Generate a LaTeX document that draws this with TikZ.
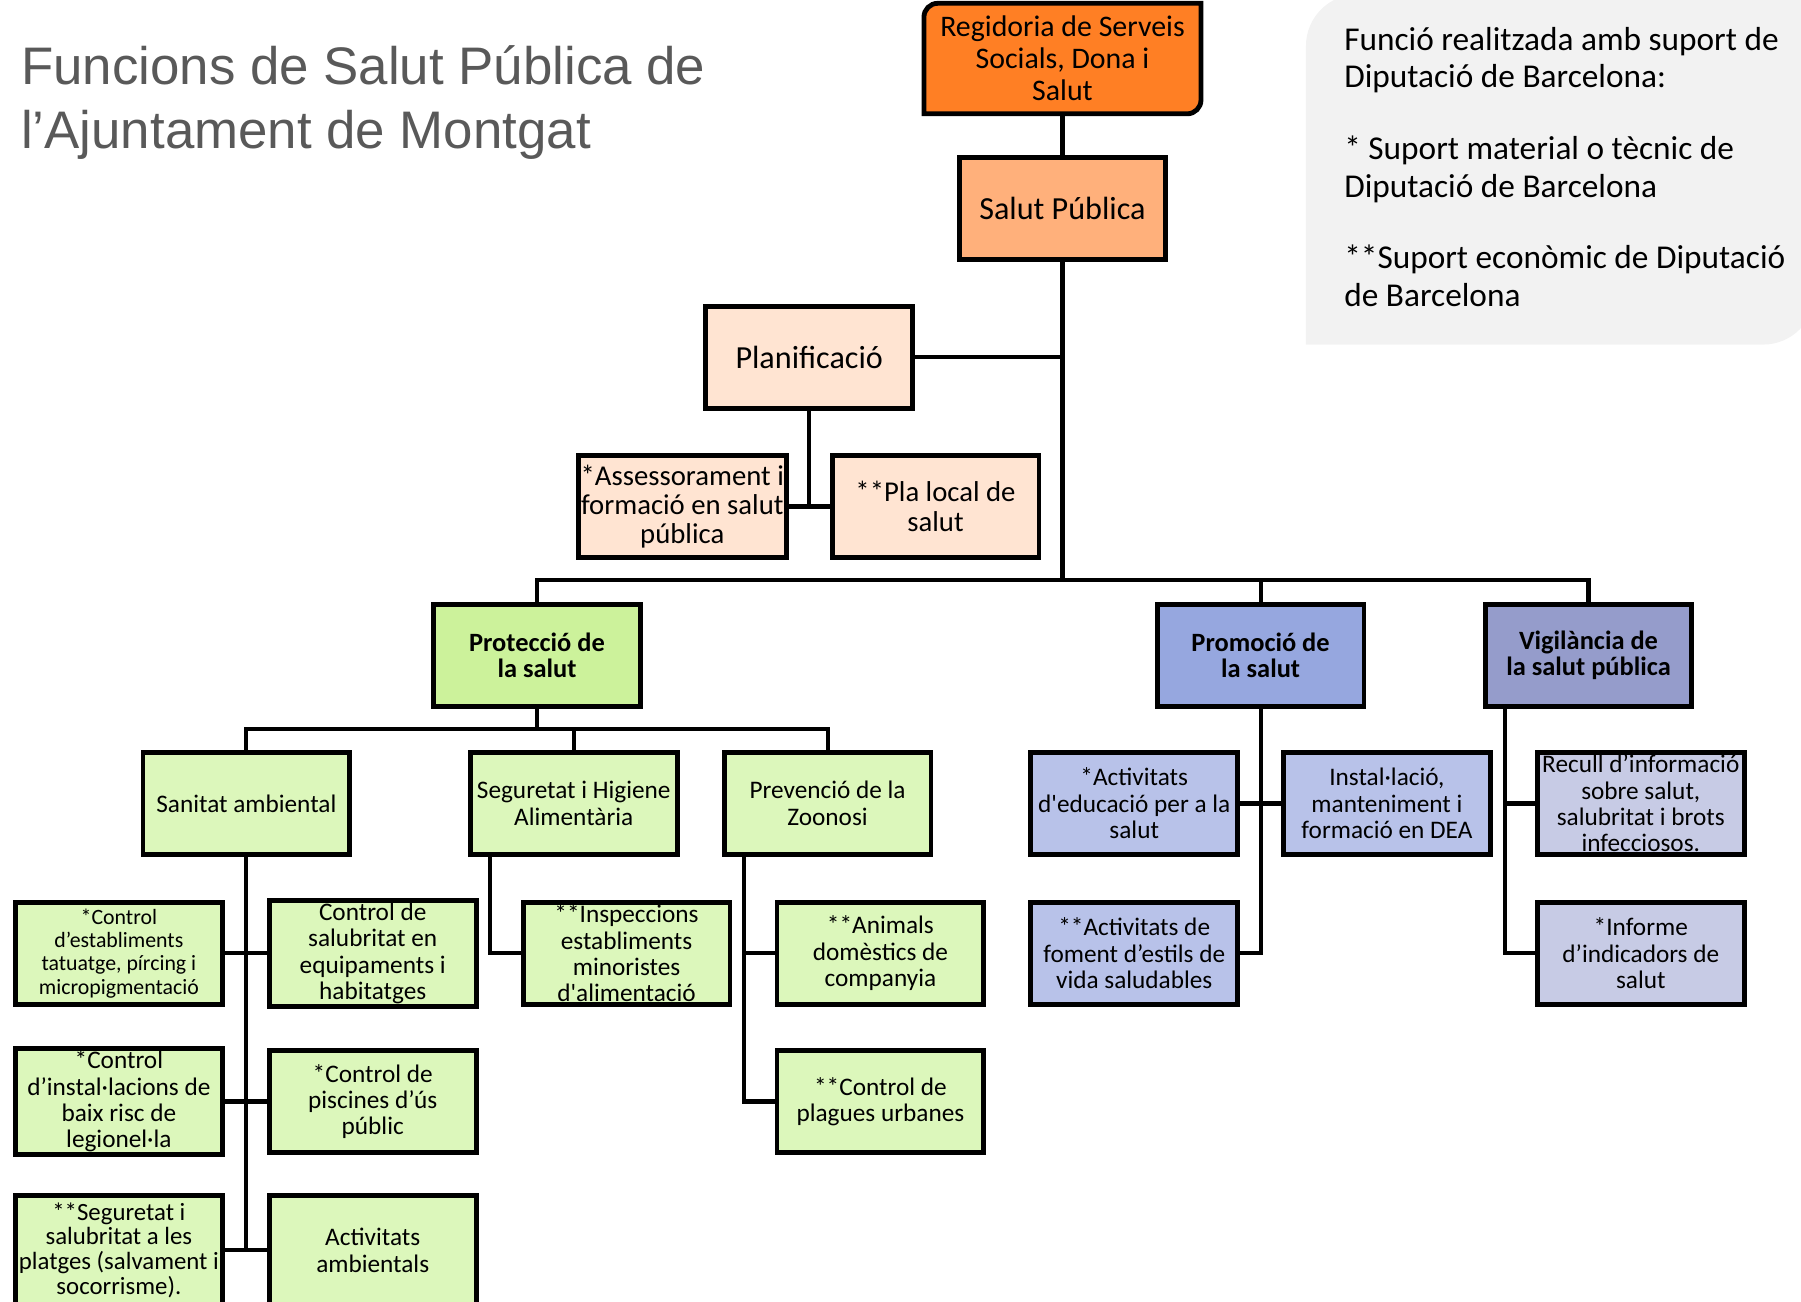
\documentclass[tikz,border=0pt]{standalone}
\usepackage{fontspec}
\setmainfont{Carlito}
\newfontfamily\titlefont{Liberation Sans}
\usepackage{xcolor}
\usepackage{tikz}
\usetikzlibrary{backgrounds}
\definecolor{regorange}{HTML}{FF7F24}
\definecolor{spfill}{HTML}{FFB07B}
\definecolor{planfill}{HTML}{FFE4D2}
\definecolor{protfill}{HTML}{CCF29B}
\definecolor{grnfill}{HTML}{DCF7BB}
\definecolor{promfill}{HTML}{96A7DF}
\definecolor{vigfill}{HTML}{959CCB}
\definecolor{promchild}{HTML}{B8C2E9}
\definecolor{vigchild}{HTML}{C7CBE5}
\definecolor{legendgray}{HTML}{F2F2F2}
\definecolor{titlegray}{HTML}{595959}
\newcommand{\ap}{\textquotesingle}

\begin{document}
\begin{tikzpicture}[x=0.5pt, y=-0.5pt,
  orgbox/.style={draw, line width=2.1pt, minimum width=90pt, minimum height=44.5pt, inner sep=1pt, align=center, font=\fontsize{11}{11.5}\selectfont},
  headbox/.style={orgbox, font=\fontsize{11.5}{11.5}\selectfont\bfseries},
  conn/.style={line width=1.8pt}]
  \useasboundingbox (0,0) rectangle (1568,1133);
  \clip (0,0) rectangle (1568,1133);

  % title and legend
  \node[anchor=north west, inner sep=0, align=left, text=titlegray, font=\titlefont\fontsize{23}{28}\selectfont] (title) at (18,39) {Funcions de Salut Pública de\\l’Ajuntament de Montgat};
  \fill[legendgray] (1137,300) -- (1137,40) arc[start angle=180, end angle=90, radius=22.5pt] -- (1580,-5) -- (1580,255) arc[start angle=0, end angle=-90, radius=22.5pt] -- cycle;
  \node[anchor=north west, inner sep=0, align=left, font=\fontsize{14.5}{16.5}\selectfont] (legend) at (1170,23) {Funció realitzada amb suport de\\Diputació de Barcelona:\\[14.5pt]* Suport material o tècnic de\\Diputació de Barcelona\\[14.5pt]**Suport econòmic de Diputació\\de Barcelona};

  % top levels
  \node[orgbox, draw=none, minimum width=118.5pt, minimum height=46pt, font=\fontsize{13}{14}\selectfont] (reg) at (925,51) {Regidoria de Serveis\\Socials, Dona i\\Salut};
  \begin{scope}[on background layer]
    \draw[line width=2.1pt, fill=regorange] (reg.south west) -- ([yshift=-6pt]reg.north west) arc[start angle=180, end angle=90, radius=6pt] -- (reg.north east) -- ([yshift=6pt]reg.south east) arc[start angle=0, end angle=-90, radius=6pt] -- cycle;
  \end{scope}
  \node[orgbox, fill=spfill, font=\fontsize{14}{16}\selectfont] (sp) at (925,181.5) {Salut Pública};
  \node[orgbox, fill=planfill, font=\fontsize{14}{16}\selectfont] (plan) at (704.5,311) {Planificació};
  \node[orgbox, fill=planfill, font=\fontsize{12.5}{12.75}\selectfont] (ases) at (594,441) {*Assessorament i\\formació en salut\\pública};
  \node[orgbox, fill=planfill, font=\fontsize{12.5}{12.75}\selectfont] (pla) at (814.5,441) {**Pla local de\\salut};

  \node[headbox, fill=protfill] (prot) at (467.5,570.5) {Protecció de\\la salut};
  \node[headbox, fill=promfill] (prom) at (1097.5,570.5) {Promoció de\\la salut};
  \node[headbox, fill=vigfill] (vig) at (1383,570.5) {Vigilància de\\la salut pública};

  % proteccio
  \node[orgbox, fill=grnfill] (sanamb) at (214.5,699.5) {Sanitat ambiental};
  \node[orgbox, fill=grnfill] (segali) at (499.5,699.5) {Seguretat i Higiene\\Alimentària};
  \node[orgbox, fill=grnfill] (zoon) at (720.5,699.5) {Prevenció de la\\Zoonosi};
  \node[orgbox, fill=grnfill, font=\fontsize{9.5}{10.2}\selectfont] (ctat) at (103.5,830) {*Control\\d’establiments\\tatuatge, pírcing i\\micropigmentació};
  \node[orgbox, fill=grnfill] (equip) at (324.5,830) {Control de\\salubritat en\\equipaments i\\habitatges};
  \node[orgbox, fill=grnfill] (legio) at (103.5,959) {*Control\\d’instal·lacions de\\baix risc de\\legionel·la};
  \node[orgbox, fill=grnfill] (pisc) at (324.5,959) {*Control de\\piscines d’ús\\públic};
  \node[orgbox, fill=grnfill, minimum height=47.5pt, font=\fontsize{10.8}{10.8}\selectfont] (platg) at (103.5,1088.5) {**Seguretat i\\salubritat a les\\platges (salvament i\\socorrisme).};
  \node[orgbox, fill=grnfill, minimum height=47.5pt] (actamb) at (324.5,1088.5) {Activitats\\ambientals};
  \node[orgbox, fill=grnfill] (insp) at (545.5,830) {**Inspeccions\\establiments\\minoristes\\d\ap alimentació};
  \node[orgbox, fill=grnfill] (anim) at (766.5,830) {**Animals\\domèstics de\\companyia};
  \node[orgbox, fill=grnfill] (plag) at (766.5,959) {**Control de\\plagues urbanes};

  % promocio and vigilancia
  \node[orgbox, fill=promchild] (edu) at (987.5,699.5) {*Activitats\\d\ap educació per a la\\salut};
  \node[orgbox, fill=promchild] (dea) at (1207.5,699.5) {Instal·lació,\\manteniment i\\formació en DEA};
  \node[orgbox, fill=promchild] (fom) at (987.5,830) {**Activitats de\\foment d’estils de\\vida saludables};
  \node[orgbox, fill=vigchild] (rec) at (1428.5,699.5) {Recull d’informació\\sobre salut,\\salubritat i brots\\infecciosos.};
  \node[orgbox, fill=vigchild] (inf) at (1428.5,830) {*Informe\\d’indicadors de\\salut};

  % connectors
  \coordinate (busP) at (925,505);
  \coordinate (busV) at (467.5,635);
  \coordinate (segl) at ([xshift=9.5pt]segali.south west);
  \coordinate (zoonl) at ([xshift=9.5pt]zoon.south west);
  \coordinate (vigl) at ([xshift=9.5pt]vig.south west);
  \draw[conn] (reg) -- (sp);
  \draw[conn] (sp) -- (busP);
  \draw[conn] (plan.east) -- (plan.east -| sp.south);
  \draw[conn] (plan.south) |- (ases.east);
  \draw[conn] (pla.west) -- (pla.west -| plan.south);
  \draw[conn] (prot.north) |- (busP) -| (vig.north);
  \draw[conn] (busP) -| (prom.north);
  \draw[conn] (prot) -- (busV);
  \draw[conn] (sanamb.north) |- (busV) -| (zoon.north);
  \draw[conn] (busV) -| (segali.north);
  \draw[conn] (sanamb.south) -- (sanamb.south |- actamb.west);
  \draw[conn] (ctat.east) -- (equip.west);
  \draw[conn] (legio.east) -- (pisc.west);
  \draw[conn] (platg.east) -- (actamb.west);
  \draw[conn] (segl) |- (insp.west);
  \draw[conn] (zoonl) |- (plag.west);
  \draw[conn] (anim.west) -- (anim.west -| zoonl);
  \draw[conn] (prom.south) |- (fom.east);
  \draw[conn] (edu.east) -- (dea.west);
  \draw[conn] (vigl) |- (inf.west);
  \draw[conn] (rec.west) -- (rec.west -| vigl);
\end{tikzpicture}
\end{document}
